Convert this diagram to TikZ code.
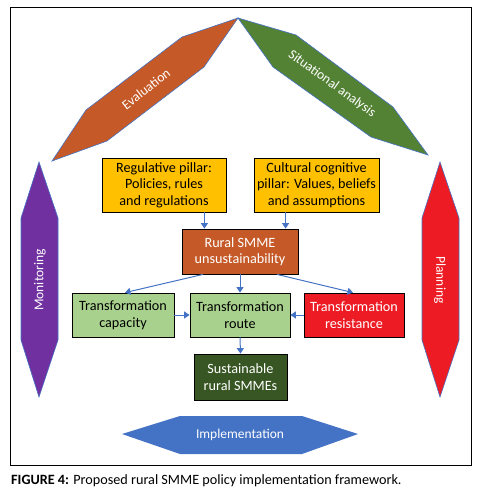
\documentclass[tikz,border=0pt]{standalone}
\usepackage{fontspec}
\setmainfont{Carlito}
\usetikzlibrary{
    arrows.meta,
    positioning,
    calc
}
\definecolor{evalOrange}{RGB}{197,90,40}
\definecolor{sitGreen}{RGB}{84,130,53}
\definecolor{monPurple}{RGB}{112,48,160}
\definecolor{planRed}{RGB}{237,28,36}
\definecolor{impBlue}{RGB}{68,114,196}
\definecolor{pillarYellow}{RGB}{255,192,0}
\definecolor{lightGreen}{RGB}{169,209,142}
\definecolor{darkGreen}{RGB}{55,86,35}
\tikzset{
  hexa/.style   = {draw=impBlue, line width=0.6pt},
  hlabel/.style = {text=white, font=\fontsize{13.5}{15}\selectfont},
  box/.style    = {draw=black, line width=0.8pt, align=center, inner sep=2pt,
                   font=\fontsize{14.2}{16.5}\selectfont},
  arr/.style    = {-{Triangle[width=7pt,length=5.5pt]}, impBlue, line width=1pt}
}

\begin{document}
\begin{tikzpicture}[x=1pt, y=-1pt]
  \useasboundingbox (0,0) rectangle (484,504);
  % frame and caption
  \draw[line width=0.9pt] (10,7) rectangle (471,465);
  \node[anchor=west, inner sep=0pt, font=\fontsize{14.2}{16}\selectfont] (caption) at (11,481)
    {\textbf{FIGURE 4:} Proposed rural SMME policy implementation framework.};

  % ── CYCLE ──
  \fill[evalOrange] (238,18) -- (182,37) -- (86,110) -- (52,161) -- (107,141) -- (204,67) -- cycle;
  \draw[hexa] (238,18) -- (182,37) -- (86,110) -- (52,161) -- (107,141) -- (204,67) -- cycle;
  \node[hlabel, rotate=37.6] (eval) at (146,89) {Evaluation};

  \fill[sitGreen] (238,18) -- (273,67) -- (371,137) -- (428,155) -- (393,107) -- (296,35) -- cycle;
  \draw[hexa] (238,18) -- (273,67) -- (371,137) -- (428,155) -- (393,107) -- (296,35) -- cycle;
  \node[hlabel, rotate=-35.8] (sit) at (332,84) {Situational analysis};

  \fill[monPurple] (39,162) -- (58,218) -- (58,340) -- (39,397) -- (21,340) -- (21,218) -- cycle;
  \draw[hexa] (39,162) -- (58,218) -- (58,340) -- (39,397) -- (21,340) -- (21,218) -- cycle;
  \node[hlabel, rotate=90] (mon) at (40,280) {Monitoring};

  \fill[planRed] (440,162) -- (459,218) -- (459,340) -- (440,397) -- (422,340) -- (422,218) -- cycle;
  \draw[hexa] (440,162) -- (459,218) -- (459,340) -- (440,397) -- (422,340) -- (422,218) -- cycle;
  \node[hlabel, rotate=-90] (plan) at (440,280) {Planning};

  \fill[impBlue] (122,434) -- (180,416) -- (302,416) -- (358,434) -- (302,454) -- (180,454) -- cycle;
  \node[hlabel] (impl) at (240,435) {Implementation};

  % ── BOXES ──
  \node[box, fill=pillarYellow, minimum width=124pt, minimum height=54pt] (reg) at (164,185)
    {Regulative pillar:\\Policies, rules\\and regulations};
  \node[box, fill=pillarYellow, minimum width=125pt, minimum height=54pt] (cult) at (316.5,185)
    {Cultural cognitive\\pillar: Values, beliefs\\and assumptions};
  \node[box, fill=evalOrange, text=white, minimum width=116pt, minimum height=45pt] (rur) at (240,251.5)
    {Rural SMME\\unsustainability};
  \node[box, fill=lightGreen, minimum width=102pt, minimum height=44pt] (cap) at (123,315)
    {Transformation\\capacity};
  \node[box, fill=lightGreen, minimum width=100pt, minimum height=44pt] (route) at (240,315)
    {Transformation\\route};
  \node[box, fill=planRed, text=white, minimum width=100pt, minimum height=44pt] (res) at (354,315)
    {Transformation\\resistance};
  \node[box, fill=darkGreen, text=white, minimum width=93pt, minimum height=46pt] (sus) at (240.5,377)
    {Sustainable\\rural SMMEs};

  % ── ARROWS ──
  \draw[arr] ([xshift=-22pt]reg.south east) -- ([xshift=-22pt]reg.south east |- rur.north);
  \draw[arr] ([xshift=32pt]cult.south west) -- ([xshift=32pt]cult.south west |- rur.north);
  \draw[arr] ([xshift=-37pt]rur.south) -- ([xshift=2pt]cap.north);
  \draw[arr] (rur.south) -- (route.north);
  \draw[arr] ([xshift=37pt]rur.south) -- ([xshift=-1pt]res.north);
  \draw[arr] (cap.east) -- (route.west);
  \draw[arr] (res.west) -- (route.east);
  \draw[arr] (route.south) -- (sus.north);
\end{tikzpicture}
\end{document}
